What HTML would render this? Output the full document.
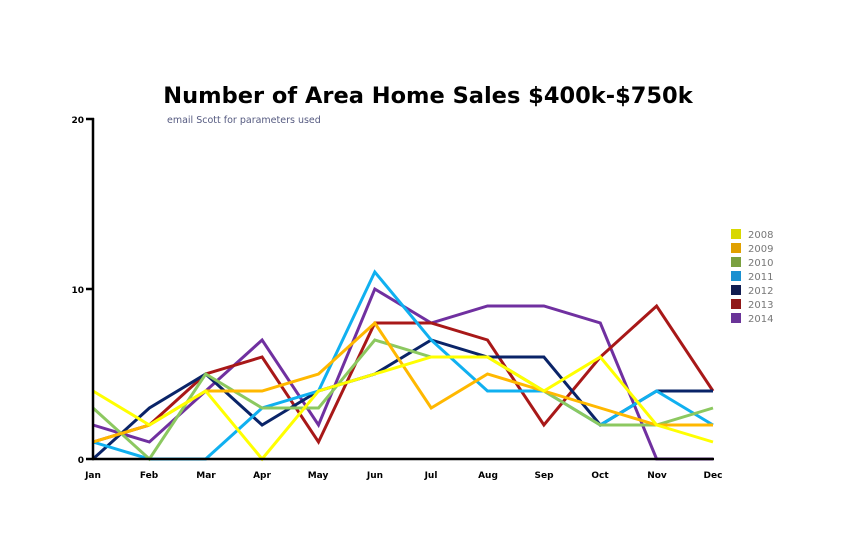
<!DOCTYPE html>
<html><head><meta charset="utf-8"><style>
body{margin:0;background:#fff;width:856px;height:550px;overflow:hidden}
svg{display:block}
</style></head><body>
<svg id="s" width="856" height="550" xmlns="http://www.w3.org/2000/svg" font-family="Liberation Sans, DejaVu Sans, sans-serif">
<text x="428" y="103" text-anchor="middle" font-family="DejaVu Sans, sans-serif" font-weight="bold" font-size="22.5" fill="#000">Number of Area Home Sales $400k-$750k</text>
<text x="167" y="123" font-size="9.5" fill="#555a80" font-family="DejaVu Sans, sans-serif">email Scott for parameters used</text>
<g id="lines" fill="none" stroke-width="3" stroke-linejoin="miter"></g>
<g stroke="#000" stroke-width="2.5">
<line x1="93" y1="118" x2="93" y2="460"/>
<line x1="92" y1="459" x2="714" y2="459"/>
<line x1="86" y1="119" x2="94" y2="119"/>
<line x1="86" y1="289" x2="94" y2="289"/>
<line x1="86" y1="459" x2="94" y2="459"/>
</g>
<g font-size="9" font-weight="bold" fill="#000" font-family="DejaVu Sans, sans-serif">
<text x="84" y="123" text-anchor="end">20</text>
<text x="84" y="293" text-anchor="end">10</text>
<text x="84" y="463" text-anchor="end">0</text>
<g text-anchor="middle">
<text x="93" y="478">Jan</text><text x="149" y="478">Feb</text><text x="206" y="478">Mar</text><text x="262" y="478">Apr</text><text x="318" y="478">May</text><text x="375" y="478">Jun</text><text x="431" y="478">Jul</text><text x="488" y="478">Aug</text><text x="544" y="478">Sep</text><text x="600" y="478">Oct</text><text x="657" y="478">Nov</text><text x="713" y="478">Dec</text>
</g></g>
<g font-size="10" fill="#777" font-family="DejaVu Sans, sans-serif">
<rect x="731" y="229" width="10" height="10" fill="#d8d800"/><text x="748" y="238">2008</text>
<rect x="731" y="243" width="10" height="10" fill="#e0a000"/><text x="748" y="252">2009</text>
<rect x="731" y="257" width="10" height="10" fill="#7aa040"/><text x="748" y="266">2010</text>
<rect x="731" y="271" width="10" height="10" fill="#1a90d0"/><text x="748" y="280">2011</text>
<rect x="731" y="285" width="10" height="10" fill="#101c50"/><text x="748" y="294">2012</text>
<rect x="731" y="299" width="10" height="10" fill="#901818"/><text x="748" y="308">2013</text>
<rect x="731" y="313" width="10" height="10" fill="#6a3498"/><text x="748" y="322">2014</text>
</g>
</svg>
<script>
var d=[
["#7030a0",[2,1,4,7,2,10,8,9,9,8,0,0]],
["#a81818",[1,2,5,6,1,8,8,7,2,6,9,4]],
["#0a2468",[0,3,5,2,4,5,7,6,6,2,4,4]],
["#10b0f0",[1,0,0,3,4,11,7,4,4,2,4,2]],
["#8cc860",[3,0,5,3,3,7,6,6,4,2,2,3]],
["#ffb800",[1,2,4,4,5,8,3,5,4,3,2,2]],
["#ffff00",[4,2,4,0,4,5,6,6,4,6,2,1]]];
var g=document.getElementById("lines");
d.forEach(function(s){var p=s[1].map(function(v,i){return (93+i*620/11).toFixed(1)+","+(459-17*v)}).join(" ");
var e=document.createElementNS("http://www.w3.org/2000/svg","polyline");e.setAttribute("points",p);e.setAttribute("stroke",s[0]);g.appendChild(e);});
</script>
</body></html>
